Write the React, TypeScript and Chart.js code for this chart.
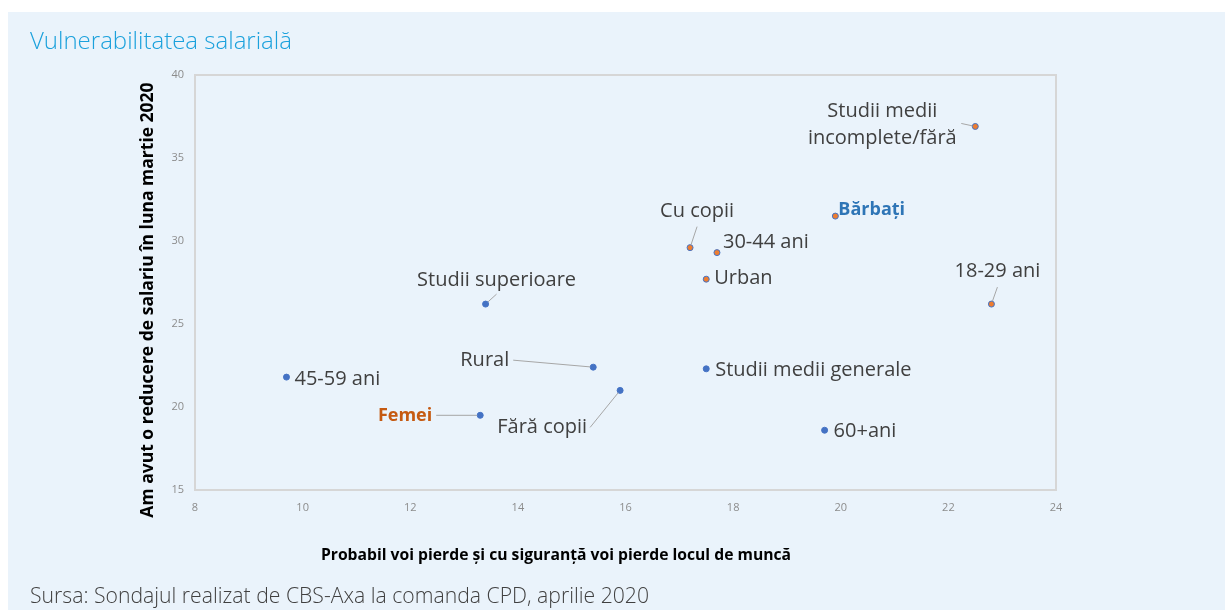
import React, { useEffect, useRef } from "react";
import { Chart, registerables } from "chart.js";

Chart.register(...registerables);

// ---- data ----
const orangeLabels = [
  "Studii medii\nincomplete/fără",
  "Bărbați",
  "18-29 ani",
  "Cu copii",
  "30-44 ani",
  "Urban",
];
const orangeX = [22.5, 19.9, 22.8, 17.2, 17.7, 17.5];
const orangeY = [36.9, 31.5, 26.2, 29.6, 29.3, 27.7];

const blueLabels = [
  "Studii superioare",
  "Rural",
  "Fără copii",
  "Femei",
  "45-59 ani",
  "Studii medii generale",
  "60+ani",
];
const blueX = [13.4, 15.4, 15.9, 13.3, 9.7, 17.5, 19.7];
const blueY = [26.2, 22.4, 21.0, 19.5, 21.8, 22.3, 18.6];

const xTicks = [8, 10, 12, 14, 16, 18, 20, 22, 24];
const yTicks = [15, 20, 25, 30, 35, 40];

const titleText = "Vulnerabilitatea salarială";
const xTitle = "Probabil voi pierde și cu siguranță voi pierde locul de muncă";
const yTitle = "Am avut o reducere de salariu în luna martie 2020";
const sourceText = "Sursa: Sondajul realizat de CBS-Axa la comanda CPD, aprilie 2020";

// ---- label layout (pixel offsets relative to each point) ----
type LabelStyle = {
  dx: number;
  dy: number;
  align: CanvasTextAlign;
  leader?: [number, number];
  bold?: boolean;
  color?: string;
};
const orangeLayout: LabelStyle[] = [
  { dx: -93, dy: -2, align: "center", leader: [-14, -3] },
  { dx: 3, dy: -6, align: "left", bold: true, color: "#2E75B6" },
  { dx: 6, dy: -33, align: "center", leader: [6, -17] },
  { dx: 7, dy: -36, align: "center", leader: [7, -21] },
  { dx: 6, dy: -10, align: "left" },
  { dx: 8, dy: -1, align: "left" },
];
const blueLayout: LabelStyle[] = [
  { dx: 11, dy: -24, align: "center", leader: [11, -10] },
  { dx: -84, dy: -7, align: "right", leader: [-80, -7] },
  { dx: -33, dy: 37, align: "right", leader: [-30, 37] },
  { dx: -48, dy: 1, align: "right", leader: [-44, 0], bold: true, color: "#C55A11" },
  { dx: 8, dy: 2, align: "left" },
  { dx: 9, dy: 1, align: "left" },
  { dx: 9, dy: 1, align: "left" },
];

const FONT = "'Open Sans', 'Noto Sans', sans-serif";
const W = 1217;
const H = 598;

const pointLabelPlugin = {
  id: "pointLabels",
  afterDatasetsDraw(chart: any) {
    const ctx = chart.ctx as CanvasRenderingContext2D;
    const sets: [string[], LabelStyle[]][] = [
      [orangeLabels, orangeLayout],
      [blueLabels, blueLayout],
    ];
    sets.forEach(([labels, layout], di) => {
      const meta = chart.getDatasetMeta(di);
      meta.data.forEach((el: any, i: number) => {
        const s = layout[i];
        const px = el.x;
        const py = el.y;
        ctx.save();
        if (s.leader) {
          ctx.strokeStyle = "#A6A6A6";
          ctx.lineWidth = 1;
          ctx.beginPath();
          ctx.moveTo(px + s.leader[0], py + s.leader[1]);
          const ang = Math.atan2(s.leader[1], s.leader[0]);
          ctx.lineTo(px + Math.cos(ang) * 3, py + Math.sin(ang) * 3);
          ctx.stroke();
        }
        ctx.fillStyle = s.color || "#404040";
        ctx.font = `${s.bold ? "bold 18px" : "20px"} ${FONT}`;
        ctx.textAlign = s.align;
        ctx.textBaseline = "middle";
        const lines = labels[i].split("\n");
        const lh = 27;
        lines.forEach((ln, k) => {
          const off = (k - (lines.length - 1) / 2) * lh;
          ctx.fillText(ln, px + s.dx, py + s.dy + off);
        });
        ctx.restore();
      });
    });
  },
};

const framePlugin = {
  id: "frame",
  beforeDatasetsDraw(chart: any) {
    const { ctx, chartArea } = chart;
    ctx.save();
    ctx.strokeStyle = "#D6D6D6";
    ctx.lineWidth = 2;
    ctx.strokeRect(
      chartArea.left,
      chartArea.top,
      chartArea.right - chartArea.left,
      chartArea.bottom - chartArea.top
    );
    ctx.restore();
  },
  afterDraw(chart: any) {
    const ctx = chart.ctx as CanvasRenderingContext2D;
    ctx.save();
    ctx.fillStyle = "#000000";
    ctx.textAlign = "center";
    ctx.textBaseline = "middle";
    ctx.font = `bold 15.7px ${FONT}`;
    ctx.fillText(xTitle, 548, 544);
    ctx.translate(140, 288);
    ctx.rotate(-Math.PI / 2);
    ctx.font = `bold 17.5px ${FONT}`;
    ctx.fillText(yTitle, 0, 0);
    ctx.restore();
  },
};

export default function App() {
  const ref = useRef<HTMLCanvasElement | null>(null);
  useEffect(() => {
    if (!ref.current) return;
    const chart = new Chart(ref.current, {
      type: "scatter",
      data: {
        datasets: [
          {
            label: "orange",
            data: orangeX.map((x, i) => ({ x, y: orangeY[i] })),
            backgroundColor: "#ED7D31",
            borderColor: "#4472C4",
            borderWidth: 1,
            pointRadius: 3,
          },
          {
            label: "blue",
            data: blueX.map((x, i) => ({ x, y: blueY[i] })),
            backgroundColor: "#4472C4",
            borderColor: "#4472C4",
            borderWidth: 1,
            pointRadius: 3,
          },
        ],
      },
      options: {
        responsive: false,
        animation: false,
        layout: { padding: { left: 0, top: 63, right: 169, bottom: 0 } },
        plugins: {
          legend: { display: false },
          tooltip: { enabled: false },
          title: { display: false },
        },
        scales: {
          x: {
            type: "linear",
            min: xTicks[0],
            max: xTicks[xTicks.length - 1],
            afterBuildTicks: (axis: any) => {
              axis.ticks = xTicks.map((v) => ({ value: v }));
            },
            afterFit: (axis: any) => {
              axis.height = 120;
            },
            grid: { display: false, drawTicks: false },
            border: { display: false },
            ticks: {
              color: "#8C8C8C",
              font: { family: FONT, size: 11 },
              padding: 11,
              maxRotation: 0,
            },
          },
          y: {
            type: "linear",
            min: yTicks[0],
            max: yTicks[yTicks.length - 1],
            afterBuildTicks: (axis: any) => {
              axis.ticks = yTicks.map((v) => ({ value: v }));
            },
            afterFit: (axis: any) => {
              axis.width = 187;
            },
            grid: { display: false, drawTicks: false },
            border: { display: false },
            ticks: {
              color: "#8C8C8C",
              font: { family: FONT, size: 11 },
              padding: 11,
            },
          },
        },
      },
      plugins: [framePlugin, pointLabelPlugin],
    });
    return () => chart.destroy();
  }, []);

  return (
    <div
      style={{
        position: "fixed",
        left: 8,
        top: 12,
        width: W,
        height: H,
        background: "#EAF3FB",
        overflow: "hidden",
      }}
    >
      <canvas
        ref={ref}
        width={W}
        height={H}
        style={{ position: "absolute", left: 0, top: 0, width: W, height: H }}
      />
      <div
        style={{
          position: "absolute",
          left: 22,
          top: 12,
          fontFamily: FONT,
          fontWeight: 300,
          fontSize: 24,
          lineHeight: "32px",
          color: "#1BA1DC",
          whiteSpace: "nowrap",
        }}
      >
        {titleText}
      </div>
      <div
        style={{
          position: "absolute",
          left: 22,
          top: 568,
          fontFamily: FONT,
          fontWeight: 300,
          fontSize: 21.2,
          lineHeight: "30px",
          color: "#404040",
          whiteSpace: "nowrap",
        }}
      >
        {sourceText}
      </div>
    </div>
  );
}
